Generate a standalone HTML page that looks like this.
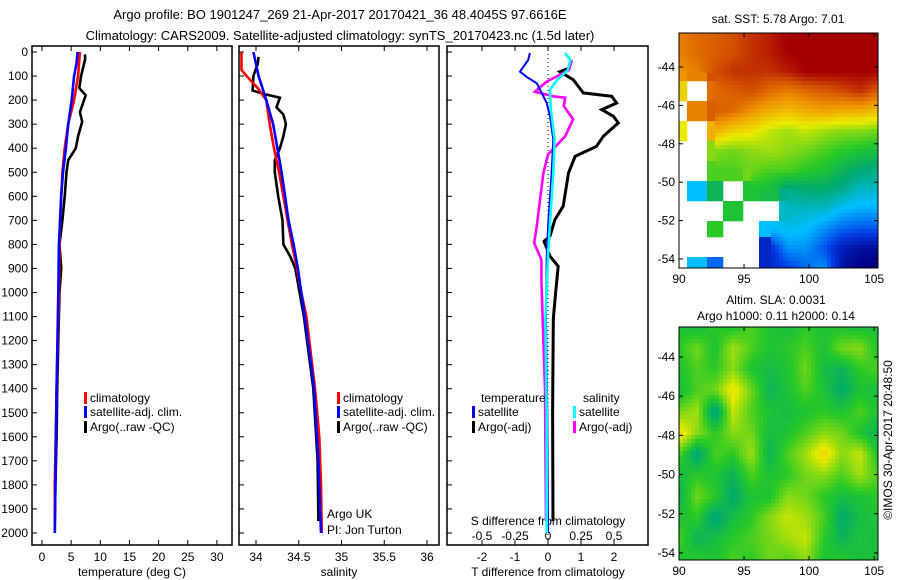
<!DOCTYPE html>
<html><head><meta charset="utf-8"><style>
html,body{margin:0;padding:0;background:#fff;}
svg{display:block;font-family:"Liberation Sans",sans-serif;}
text{font-size:12px;fill:#000;}
</style></head><body>
<svg id="chart" width="900" height="580" viewBox="0 0 900 580" xmlns="http://www.w3.org/2000/svg">
<text x="340" y="19" text-anchor="middle" style="font-size:13px">Argo profile: BO 1901247_269 21-Apr-2017 20170421_36 48.4045S 97.6616E</text>
<text x="340" y="40" text-anchor="middle" style="font-size:13px">Climatology: CARS2009. Satellite-adjusted climatology: synTS_20170423.nc (1.5d later)</text>
<g id="g"></g>
</svg>
<script>
// ---- data ----
const depthTicks = [0,100,200,300,400,500,600,700,800,900,1000,1100,1200,1300,1400,1500,1600,1700,1800,1900,2000];
const tempTicks = [0,5,10,15,20,25,30];
const salTicks = [34,34.5,35,35.5,36];
const salTickLabels = ["34","34.5","35","35.5","36"];
const tdiffTicks = [-2,-1,0,1,2];
const sdiffTicks = [-0.5,-0.25,0,0.25,0.5];

const tClimDepth = [0,100,200,300,400,500,600,700,800,1000,1400,1800,2000];
const tClimVal   = [6.5,6.2,5.5,4.5,3.9,3.5,3.3,3.1,3.0,2.9,2.5,2.2,2.2];
const tSatDepth  = [0,50,100,200,300,400,500,600,700,800,1000,1400,1800,2000];
const tSatVal    = [6.1,5.9,5.5,5.1,4.5,4.1,3.6,3.3,3.1,2.9,2.8,2.5,2.3,2.2];
const tArgoDepth = [10,30,100,150,180,250,290,350,400,450,500,600,700,800,900,1000,1200,1400,1600,1800,1950];
const tArgoVal   = [7.4,7.4,6.7,6.4,7.5,6.5,6.9,6.2,5.8,4.5,4.2,3.9,3.5,3.0,3.3,3.0,2.8,2.6,2.5,2.3,2.2];

const sClimDepth = [0,75,100,150,200,300,400,500,600,700,800,900,1000,1100,1400,1600,1800,2000];
const sClimVal   = [33.83,33.83,33.89,34.02,34.12,34.16,34.21,34.27,34.32,34.37,34.42,34.48,34.53,34.59,34.69,34.74,34.76,34.77];
const sSatDepth  = [0,100,200,300,400,500,600,700,800,900,1000,1100,1400,1700,2000];
const sSatVal    = [33.97,34.03,34.12,34.2,34.25,34.3,34.34,34.38,34.44,34.49,34.53,34.57,34.68,34.73,34.76];
const sArgoDepth = [20,50,80,100,160,175,190,230,260,300,350,400,450,500,600,700,800,850,900,1000,1100,1400,1700,1950];
const sArgoVal   = [34.03,34.02,33.99,33.97,33.96,34.1,34.28,34.24,34.32,34.35,34.32,34.28,34.22,34.22,34.26,34.31,34.32,34.4,34.46,34.51,34.56,34.67,34.72,34.73];

const dTSatDepth  = [4,33,82,103,130,170,212,267,364,503,710,849,1110,1500,2000];
const dTSatVal    = [-0.55,-0.6,-0.85,-0.65,-0.34,-0.19,-0.04,0.06,0.16,0.11,0.01,-0.04,-0.06,-0.02,0.0];
const dTArgoDepth = [68,82,116,170,184,212,240,267,295,350,392,434,503,641,697,766,787,849,891,988,1110,1500,1950];
const dTArgoVal   = [0.62,0.36,0.77,1.07,1.93,2.08,1.63,1.98,2.13,1.68,1.47,0.82,0.62,0.46,0.21,0.06,-0.12,0.06,0.31,0.24,0.16,0.14,0.15];
const dSSatDepth  = [5,33,75,116,157,230,364,503,710,849,1110,1500,2000];
const dSSatVal    = [0.13,0.17,0.15,0.07,0.015,0.02,0.05,0.04,0.015,0.0,-0.02,-0.01,-0.01];
const dSArgoDepth = [33,75,123,165,184,190,225,280,350,426,503,613,724,794,863,946,1110,1400,1950];
const dSArgoVal   = [0.18,0.16,-0.01,-0.1,0.04,0.13,0.12,0.19,0.13,0.0,-0.035,-0.06,-0.085,-0.105,-0.05,-0.05,-0.04,-0.023,-0.015];

const mapLonTicks = [90,95,100,105];
const mapLatTicks = [-44,-46,-48,-50,-52,-54];
// SST colour index grid (rows north->south, cols west->east), null = no data
const sstGrid = [
 [0.85,0.88,0.90,0.92,0.95,0.97,1,1,1,1,1,1],
 [0.85,0.88,0.90,0.92,0.95,0.97,1,1,1,1,1,1],
 [0.82,0.85,0.92,0.95,0.95,0.95,0.97,1,1,1,1,1],
 [0.72,null,0.88,0.90,0.92,0.88,0.85,0.88,0.90,0.92,0.95,0.90],
 [null,0.85,0.90,0.88,0.82,0.78,0.75,0.78,0.80,0.78,0.78,0.75],
 [0.68,null,0.78,0.72,0.70,0.65,0.62,0.65,0.62,0.60,0.60,0.58],
 [null,null,0.60,0.58,0.60,0.62,0.60,0.58,0.55,0.52,0.50,0.48],
 [null,null,0.55,0.55,0.58,0.55,0.55,0.52,0.50,0.45,0.42,0.40],
 [null,0.30,0.45,null,0.50,0.48,0.40,0.42,0.42,0.40,0.35,0.35],
 [null,null,null,0.50,null,null,0.35,0.35,0.35,0.30,0.28,0.28],
 [null,null,0.52,null,null,0.30,0.32,0.30,0.25,0.20,0.18,0.18],
 [null,null,null,null,null,0.10,0.25,0.25,0.18,0.08,0.04,0.03],
 [null,0.30,0.20,null,null,0.10,0.15,0.20,0.25,0.05,0.00,0.00]
];
const slaGrid = [
 [0.50,0.48,0.52,0.50,0.55,0.50,0.48,0.52,0.50,0.50,0.48,0.50],
 [0.52,0.58,0.50,0.62,0.55,0.50,0.52,0.55,0.50,0.58,0.60,0.50],
 [0.50,0.55,0.52,0.60,0.50,0.48,0.50,0.58,0.48,0.45,0.52,0.55],
 [0.48,0.55,0.58,0.70,0.58,0.45,0.50,0.55,0.50,0.42,0.50,0.48],
 [0.58,0.62,0.38,0.65,0.55,0.50,0.48,0.50,0.52,0.50,0.55,0.50],
 [0.72,0.60,0.52,0.60,0.58,0.48,0.50,0.55,0.60,0.58,0.50,0.45],
 [0.55,0.40,0.55,0.52,0.62,0.45,0.55,0.62,0.72,0.60,0.65,0.50],
 [0.48,0.52,0.50,0.45,0.55,0.50,0.52,0.58,0.60,0.55,0.62,0.55],
 [0.45,0.58,0.52,0.42,0.50,0.50,0.60,0.58,0.52,0.48,0.50,0.52],
 [0.50,0.52,0.40,0.48,0.52,0.60,0.65,0.62,0.55,0.42,0.48,0.50],
 [0.55,0.45,0.48,0.52,0.55,0.58,0.62,0.65,0.52,0.45,0.50,0.48],
 [0.50,0.52,0.50,0.55,0.52,0.58,0.55,0.60,0.50,0.52,0.48,0.50]
];

// ---- helpers ----
const NS="http://www.w3.org/2000/svg";
const G=document.getElementById('g');
function el(tag,attrs,parent){const e=document.createElementNS(NS,tag);for(const k in attrs)e.setAttribute(k,attrs[k]);(parent||G).appendChild(e);return e;}
function txt(x,y,s,anchor,parent){const t=el('text',{x:x,y:y,'text-anchor':anchor||'start'},parent);t.textContent=s;return t;}
const yD=d=>52+d*0.2405;
const PT={l:32,r:232}, PS={l:239,r:439}, PD={l:447,r:648};
const xT=v=>42+v*5.83;
const xS=v=>256+(v-34)*85.5;
const xDT=v=>548+v*33;
const xDS=v=>548+v*132;
const TOP=46,BOT=545;

function panel(p,name){
  const r=el('rect',{x:p.l,y:TOP,width:p.r-p.l,height:BOT-TOP,fill:'none',stroke:'#000','stroke-width':1.5});
  
  
  depthTicks.forEach(d=>{el('line',{x1:p.l,x2:p.l+5,y1:yD(d),y2:yD(d),stroke:'#000'});});
}
panel(PT,'temperature-panel');panel(PS,'salinity-panel');panel(PD,'difference-panel');

depthTicks.forEach(d=>{const t=txt(28,yD(d)+4,String(d),'end');
  
  });

function xticks(ticks,labels,fx,name){
  ticks.forEach((v,i)=>{
    el('line',{x1:fx(v),x2:fx(v),y1:TOP,y2:TOP+5,stroke:'#000'});
    el('line',{x1:fx(v),x2:fx(v),y1:BOT,y2:BOT-5,stroke:'#000'});
    const t=txt(fx(v),561,labels[i],'middle');
    
    
  });
}
xticks(tempTicks,tempTicks.map(String),xT,'temperature-tick-label');
xticks(salTicks,salTickLabels,xS,'salinity-tick-label');
xticks(tdiffTicks,tdiffTicks.map(String),xDT,'tdiff-tick-label');
sdiffTicks.forEach(v=>{const t=txt(xDS(v),540,String(v),'middle');
  
  });

let a;
a=txt(132,576,'temperature (deg C)','middle');
a=txt(339,576,'salinity','middle');
a=txt(548,576,'T difference from climatology','middle');
a=txt(548,525,'S difference from climatology','middle');
a=txt(327,518,'Argo UK');
a=txt(327,534,'PI: Jon Turton');

a=el('line',{x1:xDT(0),x2:xDT(0),y1:TOP,y2:BOT,stroke:'#000','stroke-dasharray':'1,3'});


function series(ds,vs,fx,color,name,w){
  const pts=ds.map((d,i)=>fx(vs[i]).toFixed(1)+','+yD(d).toFixed(1)).join(' ');
  const p=el('polyline',{points:pts,fill:'none',stroke:color,'stroke-width':w||2.6,'stroke-linejoin':'miter'});
  
  
}
series(tArgoDepth,tArgoVal,xT,'#000','temp-argo-line');
series(tClimDepth,tClimVal,xT,'#f00','temp-climatology-line');
series(tSatDepth,tSatVal,xT,'#00f','temp-satellite-line');
series(sArgoDepth,sArgoVal,xS,'#000','sal-argo-line');
series(sClimDepth,sClimVal,xS,'#f00','sal-climatology-line');
series(sSatDepth,sSatVal,xS,'#00f','sal-satellite-line');
series(dTArgoDepth,dTArgoVal,xDT,'#000','tdiff-argo-line',3);
series(dSArgoDepth,dSArgoVal,xDS,'#f0f','sdiff-argo-line');
series(dTSatDepth,dTSatVal,xDT,'#00f','tdiff-satellite-line',2);
series(dSSatDepth,dSSatVal,xDS,'#0ff','sdiff-satellite-line');

function legendEntry(x,y,color,label,name){
  const g=el('g',{});
  
  
  el('rect',{x:x,y:y-10,width:3,height:12,fill:color},g);
  txt(x+6,y,label,'start',g);
}
legendEntry(84,402,'#f00','climatology','legend-climatology');
legendEntry(84,416,'#00f','satellite-adj. clim.','legend-satellite-adj');
legendEntry(84,431,'#000','Argo(..raw -QC)','legend-argo');
legendEntry(337,402,'#f00','climatology','legend-sal-climatology');
legendEntry(337,416,'#00f','satellite-adj. clim.','legend-sal-satellite-adj');
legendEntry(337,431,'#000','Argo(..raw -QC)','legend-sal-argo');
a=txt(481,402,'temperature');
a=txt(583,402,'salinity');
legendEntry(472,416,'#00f','satellite','legend-tdiff-satellite');
legendEntry(472,431,'#000','Argo(-adj)','legend-tdiff-argo');
legendEntry(573,416,'#0ff','satellite','legend-sdiff-satellite');
legendEntry(573,431,'#f0f','Argo(-adj)','legend-sdiff-argo');

// ---- maps ----
const stops=[[0,[0,0,130]],[0.15,[0,60,230]],[0.3,[0,190,255]],[0.42,[0,170,110]],[0.52,[40,200,40]],[0.68,[235,235,0]],[0.82,[240,150,0]],[0.92,[210,80,0]],[1,[165,0,0]]];
function cmap(v){v=Math.max(0,Math.min(1,v));for(let i=1;i<stops.length;i++){if(v<=stops[i][0]){const a=stops[i-1],b=stops[i],t=(v-a[0])/(b[0]-a[0]);const c=a[1].map((x,k)=>Math.round(x+(b[1][k]-x)*t));return 'rgb('+c.join(',')+')';}}return 'rgb(165,0,0)';}
function sample(grid,fx,fy){
  const R=grid.length,C=grid[0].length;
  const gx=fx*(C-1),gy=fy*(R-1);
  const x0=Math.floor(gx),y0=Math.floor(gy),x1=Math.min(C-1,x0+1),y1=Math.min(R-1,y0+1);
  const tx=gx-x0,ty=gy-y0;
  const nn=grid[Math.round(gy)][Math.round(gx)];
  if(nn===null)return null;
  const q=[grid[y0][x0],grid[y0][x1],grid[y1][x0],grid[y1][x1]];
  if(q.some(v=>v===null))return nn;
  return q[0]*(1-tx)*(1-ty)+q[1]*tx*(1-ty)+q[2]*(1-tx)*ty+q[3]*tx*ty;
}
function drawMap(grid,L,T,W,H,name,latTop,latBot){
  const g=el('g',{});
  
  
  const cw=4,ch=4;
  for(let y=0;y<H;y+=ch){for(let x=0;x<W;x+=cw){
    const v=sample(grid,(x+cw/2)/W,(y+ch/2)/H);
    if(v===null)continue;
    el('rect',{x:L+x,y:T+y,width:Math.min(cw+0.3,W-x),height:Math.min(ch+0.3,H-y),fill:cmap(v)},g);
  }}
  el('rect',{x:L,y:T,width:W,height:H,fill:'none',stroke:'#000'},g);
  const lx=v=>L+(v-90)/15.3*W;
  const ly=v=>T+(latTop-v)/(latTop-latBot)*H;
  mapLonTicks.forEach(v=>{
    el('line',{x1:lx(v),x2:lx(v),y1:T,y2:T+4,stroke:'#000'},g);
    el('line',{x1:lx(v),x2:lx(v),y1:T+H,y2:T+H-4,stroke:'#000'},g);
    const t=txt(lx(v),T+H+15,String(v),'middle',g);
    
    
  });
  mapLatTicks.forEach(v=>{
    el('line',{x1:L,x2:L+4,y1:ly(v),y2:ly(v),stroke:'#000'},g);
    el('line',{x1:L+W,x2:L+W-4,y1:ly(v),y2:ly(v),stroke:'#000'},g);
    const t=txt(L-4,ly(v)+4,String(v),'end',g);
    
    
  });
}
drawMap(sstGrid,679,33,199,235,'sst-map',-42.23,-54.47);
drawMap(slaGrid,679,327,199,233,'sla-map',-42.47,-54.36);
a=txt(778,23,'sat. SST: 5.78 Argo: 7.01','middle');
a=txt(776,304,'Altim. SLA: 0.0031','middle');
a=txt(776,320,'Argo h1000: 0.11 h2000: 0.14','middle');
a=txt(0,0,'©IMOS 30-Apr-2017 20:48:50','middle');a.setAttribute('transform','translate(892,440) rotate(-90)');

</script>
</body></html>
